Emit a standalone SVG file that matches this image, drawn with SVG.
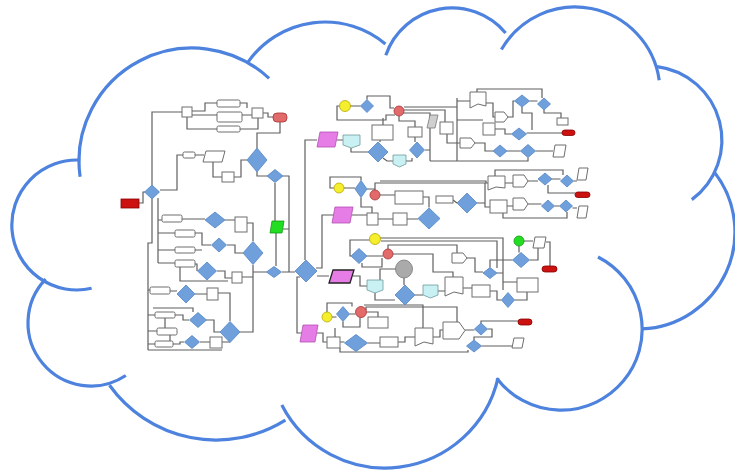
<svg xmlns="http://www.w3.org/2000/svg" width="735" height="470" viewBox="0 0 735 470">
<style>
.c{fill:none;stroke:#4d82de;stroke-width:3.2;stroke-linecap:butt}
.w{fill:none;stroke:#5f5f5f;stroke-width:1.2}
.b{fill:#fff;stroke:#6e6e6e;stroke-width:1}
.d{fill:#6fa0dc;stroke:#5484c4;stroke-width:0.8}
.rt{fill:#cc1111;stroke:#8a0000;stroke-width:0.8}
.rs{fill:#e26a6a;stroke:#a83232;stroke-width:0.8}
.y{fill:#f4ee2c;stroke:#b8a800;stroke-width:0.8}
.m{fill:#e67ce6;stroke:#b050b0;stroke-width:0.8}
.cy{fill:#c9f1f3;stroke:#6f9a9c;stroke-width:0.8}
.g{fill:#22dd22;stroke:#119911;stroke-width:0.8}
.gr{fill:#aaaaaa;stroke:#777;stroke-width:0.8}
</style>
<rect width="735" height="470" fill="#fff"/>
<g id="cloud">
<path class="c" d="M80.1,176.7 A113,113 0 0 1 269.1,78.4"/>
<path class="c" d="M248.0,62.1 A94,94 0 0 1 385.4,44.0"/>
<path class="c" d="M385.8,55.2 A70,70 0 0 1 505.6,33.0"/>
<path class="c" d="M501.4,49.5 A85,85 0 0 1 659.2,80.2"/>
<path class="c" d="M657.0,66.6 A74,74 0 0 1 691.8,199.6"/>
<path class="c" d="M714.4,172.3 A97,97 0 0 1 642.1,328.9"/>
<path class="c" d="M598.0,257.0 A81,81 0 1 1 496.7,378.2"/>
<path class="c" d="M498.0,378.1 A116,116 0 0 1 281.8,405.0"/>
<path class="c" d="M285.4,420.1 A131,131 0 0 1 109.5,385.3"/>
<path class="c" d="M125.8,375.5 A63,63 0 0 1 45.7,279.2"/>
<path class="c" d="M91.6,288.3 A65,65 0 1 1 80.4,160.1"/>
</g>
<g id="connectors">
<path class="w" d="M139,203 H143 V192 H145 M152,185 V112 H182 M192,111 H205 V103 H217 M192,115 H217 M187,117 V129 H217 M240,115 H252 M240,129 H258 V118 M240,103 H247 V108 M263,113 H268 V117 H273 M280,122 V133 H257 V148 M160,190 H177 V155 H183 M195,155 H204 M213,162 V177 H222 M234,177 H241 V160 H247 M257,172 V176 H267 M275,183 V221 M276,233 V266 M283,176 H289 V272 M283,229 H289 M282,272 H295"/>
<path class="w" d="M152,199 V243 H148 V350 M158,198 V263 M158,220 H162 M158,233 H175 M158,250 H175 M158,263 H175 M182,219 H205 M225,220 H235 M247,223 H253 V241 M195,233 H202 V245 H211 M195,250 H202 M195,264 H197 V271 M227,245 H235 V253 H243 M217,271 H225 V278 H232 M242,277 H253 V265 M180,267 V281 H228 M253,265 V272 H267 M148,290 H150 M170,291 H177 M195,294 H207 M218,293 H230 V321 M240,332 H253 V265 M148,315 H155 M148,331 H157 M148,344 H155 M153,308 H193 V312 M175,315 H183 V320 H189 M173,344 H180 V342 H184 M206,320 H214 V332 H220 M200,342 H210 M222,342 H230 M165,318 V328 M170,335 V341 M148,350 H222"/>
<path class="w" d="M317,140 H305 V260 M337,140 H343 M317,276 H329 M316,268 H322 V215 H334 M300,277 H297 V333 H302"/>
<path class="w" d="M350,106 H360.5 M340,106 H337 V120 H386 V115 H395 M367,99.5 V96 H390 V108 H394 M404,107 H457 M404,110 H445 V122 M403,113 H430 V161 M457,98 V161 M457,101 H470 M399,116 V121 H415 V127 M415,137 V142 M425,150 H430 M383,118 V125 M380,140 V142 M351,148 V152 H368 M383,158 L387,161 H393 M406,161 H412 V158 M430,161 H528 V157.5 M447,134 V143 H460 M475,143 H485 V151 H493 M507,151 H520.5 M535.5,151 H553 M477,92 V89 H542 V98 M486,103 H493 V117 H495 M508,117 H513 V101 H514.5 M529.5,101 H537.5 M544,110 V113 H561 V118 M522,107 V113 H532 V130 M495,129 H505 V134 H511.5 M526.5,133 H562 M457,120 H483"/>
<path class="w" d="M334,188 H330 V177 H361 V180.5 M344,188 H355 M367,189 H375 V190 M375,190 V183 H485 V207 H490 M380,181 H486 V183 H488 M380,195 H395 M423,197 H429 V207.5 M453,200 L457,203 M477,203 H485 M505,183 H513 M528,181 H538 M552,179 H560.5 M573.5,181 H577 M495,176 V170 H563 V175 M548,185 V193 H575 M507,206 H513 M528,204 H541.5 M554.5,206 H559.5 M572.5,208 H577 M503,213 V218 H567 V212 M361,197.5 V207 H372 V213 M352,215 H367 M378,219 H393 M407,219 H418"/>
<path class="w" d="M370,240 H350 V256 H351 M380,238 H503 V290 M381,241 H497 V268 M367,256 H383 M362,263 V267 H382 V258 M388,249 V245 H457 V253 M393,254 H433 V272 H453 V277 M467,258 H475 V272 H483 M396,269 H380 V280 M404,278 V285 M353,276 H360 V286 H367 M375,293 V300 H395 M415,295 H423 M438,291 H445 M463,288 H472 M490,291 H497 V300 H501.5 M524,241 H533 M519,246 V252.5 M546,242 H550 V266 M529.5,260 H538 V248 M512.5,260 H490 V267.5 M497,273 H503 V282 H517 M514.5,300 H527 V292"/>
<path class="w" d="M332,317 H336.5 M349.5,314 H355.5 M343,321.5 V327 H360 V317.5 M366,310 V307 H457 V322 M364,305 H423 V328 M327,312 V303 H352 V306.5 M335,328 V337 M366.5,312 H378 V317 M317,333 H323 V342 H327 M340,342 H344.5 M367.5,343 H380 M398,342 H405 V337 H415 M465,330 H474.5 M481,323 V321 H518 M487.5,329 H492 V337 H474 V340 M481.5,346 H512 M340,348 V352 H468 V350 M433,337 H440 V330 H443"/>
</g>
<g id="left-flow">
<rect class="rt" x="121" y="199" width="18" height="9"/>
<rect class="b" x="182" y="107" width="10" height="10"/>
<rect class="b" x="217" y="100" width="23" height="7" rx="1.5"/>
<rect class="b" x="217" y="112" width="25" height="10" rx="1.5"/>
<rect class="b" x="217" y="126" width="23" height="6" rx="1.5"/>
<rect class="b" x="252" y="108" width="11" height="10"/>
<rect class="rs" x="273" y="113" width="14" height="9" rx="4"/>
<rect class="b" x="183" y="152" width="12" height="6" rx="1.5"/>
<polygon class="b" points="206,151 225,151 222,162 203,162"/>
<rect class="b" x="222" y="172" width="12" height="10"/>
<rect class="b" x="162" y="215" width="20" height="7" rx="1.5"/>
<rect class="b" x="235" y="217" width="12" height="15"/>
<rect class="b" x="175" y="230" width="20" height="7" rx="1.5"/>
<rect class="b" x="175" y="247" width="20" height="6" rx="1.5"/>
<rect class="b" x="175" y="260" width="20" height="7" rx="1.5"/>
<rect class="b" x="232" y="272" width="10" height="11"/>
<polygon class="g" points="272,221 284,221 282,233 270,233"/>
<rect class="b" x="150" y="287" width="20" height="7" rx="1.5"/>
<rect class="b" x="207" y="288" width="11" height="12"/>
<rect class="b" x="155" y="312" width="20" height="6" rx="1.5"/>
<rect class="b" x="157" y="328" width="20" height="7" rx="1.5"/>
<rect class="b" x="155" y="341" width="18" height="6" rx="1.5"/>
<rect class="b" x="210" y="337" width="12" height="11"/>
<polygon class="d" points="152,185 159.5,192 152,199 144.5,192"/>
<polygon class="d" points="257,148 267,160 257,172 247,160"/>
<polygon class="d" points="275,169.5 283,176 275,182.5 267,176"/>
<polygon class="d" points="215,212 225,220 215,228 205,220"/>
<polygon class="d" points="219,238 226.5,245 219,252 211.5,245"/>
<polygon class="d" points="253,241.5 263,253 253,264.5 243,253"/>
<polygon class="d" points="207,262 216.5,271 207,280 197.5,271"/>
<polygon class="d" points="274,266.5 281.5,272 274,277.5 266.5,272"/>
<polygon class="d" points="306,260 317,271 306,282 295,271"/>
<polygon class="d" points="186,285 195,294 186,303 177,294"/>
<polygon class="d" points="198,312.5 206.5,320 198,327.5 189.5,320"/>
<polygon class="d" points="192,335.5 199.5,342 192,348.5 184.5,342"/>
<polygon class="d" points="230,321.5 240,332 230,342.5 220,332"/>
</g>
<g id="top-flow">
<circle class="y" cx="345" cy="106" r="5.5"/>
<polygon class="d" points="367,99.5 373.5,106 367,112.5 360.5,106"/>
<circle class="rs" cx="399" cy="111" r="5"/>
<polygon class="m" points="320,132 338,132 335,147 317,147"/>
<polygon class="cy" points="343,135 360,135 360,145 351.5,148 343,145"/>
<rect class="b" x="372" y="125" width="21" height="15"/>
<polygon class="d" points="378,142 388,152 378,162 368,152"/>
<polygon class="cy" points="393,155 406,155 406,164 399.5,167 393,164"/>
<rect class="b" x="408" y="127" width="14" height="10"/>
<polygon class="d" points="417,142 424.5,150 417,158 409.5,150"/>
<polygon class="gr" points="430,115 438,115 435,128 427,128" style="fill:#cfcfcf"/>
<rect class="b" x="440" y="122" width="13" height="12"/>
<polygon class="b" points="460,138 471,138 475,143 471,148 460,148"/>
<polygon class="b" points="470,92 486,92 486,106 478,104 470,108"/>
<polygon class="b" points="495,112 504,112 508,117 504,122 495,122"/>
<rect class="b" x="483" y="123" width="12" height="12"/>
<polygon class="d" points="522,95 529.5,101 522,107 514.5,101"/>
<polygon class="d" points="544,98 550.5,104 544,110 537.5,104"/>
<rect class="b" x="557" y="118" width="11" height="7"/>
<polygon class="d" points="519,128 526.5,134 519,140 511.5,134"/>
<rect class="rt" x="562" y="130" width="13" height="5.5" rx="2.7"/>
<polygon class="d" points="500,145 507,151 500,157 493,151"/>
<polygon class="d" points="528,144.5 535.5,151 528,157.5 520.5,151"/>
<polygon class="b" points="555,145 566,145 564,157 553,157"/>
</g>
<g id="middle-flow">
<circle class="y" cx="339" cy="188" r="5"/>
<polygon class="d" points="361,180.5 367,189 361,197.5 355,189"/>
<circle class="rs" cx="375" cy="195" r="5"/>
<rect class="b" x="395" y="191" width="28" height="13"/>
<rect class="b" x="436" y="196" width="17" height="7"/>
<polygon class="d" points="467,193 477,203 467,213 457,203"/>
<polygon class="b" points="488,176 505,176 505,188 496,187 488,190"/>
<rect class="b" x="490" y="200" width="17" height="13"/>
<polygon class="b" points="513,175 524,175 528,181 524,187 513,187"/>
<polygon class="b" points="513,198 524,198 528,204 524,210 513,210"/>
<polygon class="d" points="545,173 552,179 545,185 538,179"/>
<polygon class="d" points="567,175 573.5,181 567,187 560.5,181"/>
<polygon class="d" points="548,200 554.5,206 548,212 541.5,206"/>
<polygon class="d" points="566,200 572.5,206 566,212 559.5,206"/>
<polygon class="b" points="579,168 588,168 586,180 577,180"/>
<polygon class="b" points="579,206 588,206 586,218 577,218"/>
<rect class="rt" x="575" y="192" width="15" height="5.5" rx="2.7"/>
<polygon class="m" points="335,207 353,207 350,223 332,223"/>
<rect class="b" x="367" y="213" width="11" height="12"/>
<rect class="b" x="393" y="213" width="14" height="12"/>
<polygon class="d" points="429,208 440,218.5 429,229 418,218.5"/>
</g>
<g id="lower-flow">
<circle class="y" cx="375" cy="239" r="5.5"/>
<polygon class="d" points="359,248.5 367,256 359,263.5 351,256"/>
<circle class="rs" cx="388" cy="254" r="5"/>
<ellipse class="gr" cx="404" cy="269" rx="8.5" ry="9"/>
<polygon class="m" points="333,270 354,270 350,283 329,283" style="stroke:#222;stroke-width:1.3"/>
<polygon class="cy" points="367,280 383,280 383,290 375,293 367,290"/>
<polygon class="d" points="405,285 415,295 405,305 395,295"/>
<polygon class="cy" points="423,285 438,285 438,295 430.5,298 423,295"/>
<polygon class="b" points="445,277 463,277 463,294 454,292 445,296"/>
<rect class="b" x="472" y="285" width="18" height="12"/>
<polygon class="b" points="452,253 463,253 467,258 463,263 452,263"/>
<polygon class="d" points="490,267.5 497,273 490,278.5 483,273"/>
<circle class="g" cx="519" cy="241" r="5"/>
<polygon class="b" points="535,237 546,237 544,248 533,248"/>
<polygon class="d" points="521,252.5 529.5,260 521,267.5 512.5,260"/>
<rect class="rt" x="542" y="266" width="15" height="6" rx="3"/>
<rect class="b" x="517" y="278" width="21" height="14"/>
<polygon class="d" points="508,292.5 514.5,300 508,307.5 501.5,300"/>
</g>
<g id="bottom-flow">
<circle class="y" cx="327" cy="317" r="5"/>
<polygon class="d" points="343,306.5 349.5,314 343,321.5 336.5,314"/>
<circle class="rs" cx="361" cy="312" r="5.5"/>
<rect class="b" x="368" y="317" width="20" height="11"/>
<polygon class="m" points="303,325 318,325 315,342 300,342"/>
<rect class="b" x="327" y="337" width="13" height="11"/>
<polygon class="d" points="356,334.5 367.5,343 356,351.5 344.5,343"/>
<rect class="b" x="380" y="337" width="18" height="10"/>
<polygon class="b" points="415,328 433,328 433,344 424,342 415,346"/>
<polygon class="b" points="443,322 459,322 465,330.5 459,339 443,339"/>
<polygon class="d" points="481,323 487.5,329 481,335 474.5,329"/>
<rect class="rt" x="518" y="319" width="14" height="6" rx="3"/>
<polygon class="d" points="474,340 481.5,346 474,352 466.5,346"/>
<polygon class="b" points="514,338 524,338 522,348 512,348"/>
</g>
</svg>
